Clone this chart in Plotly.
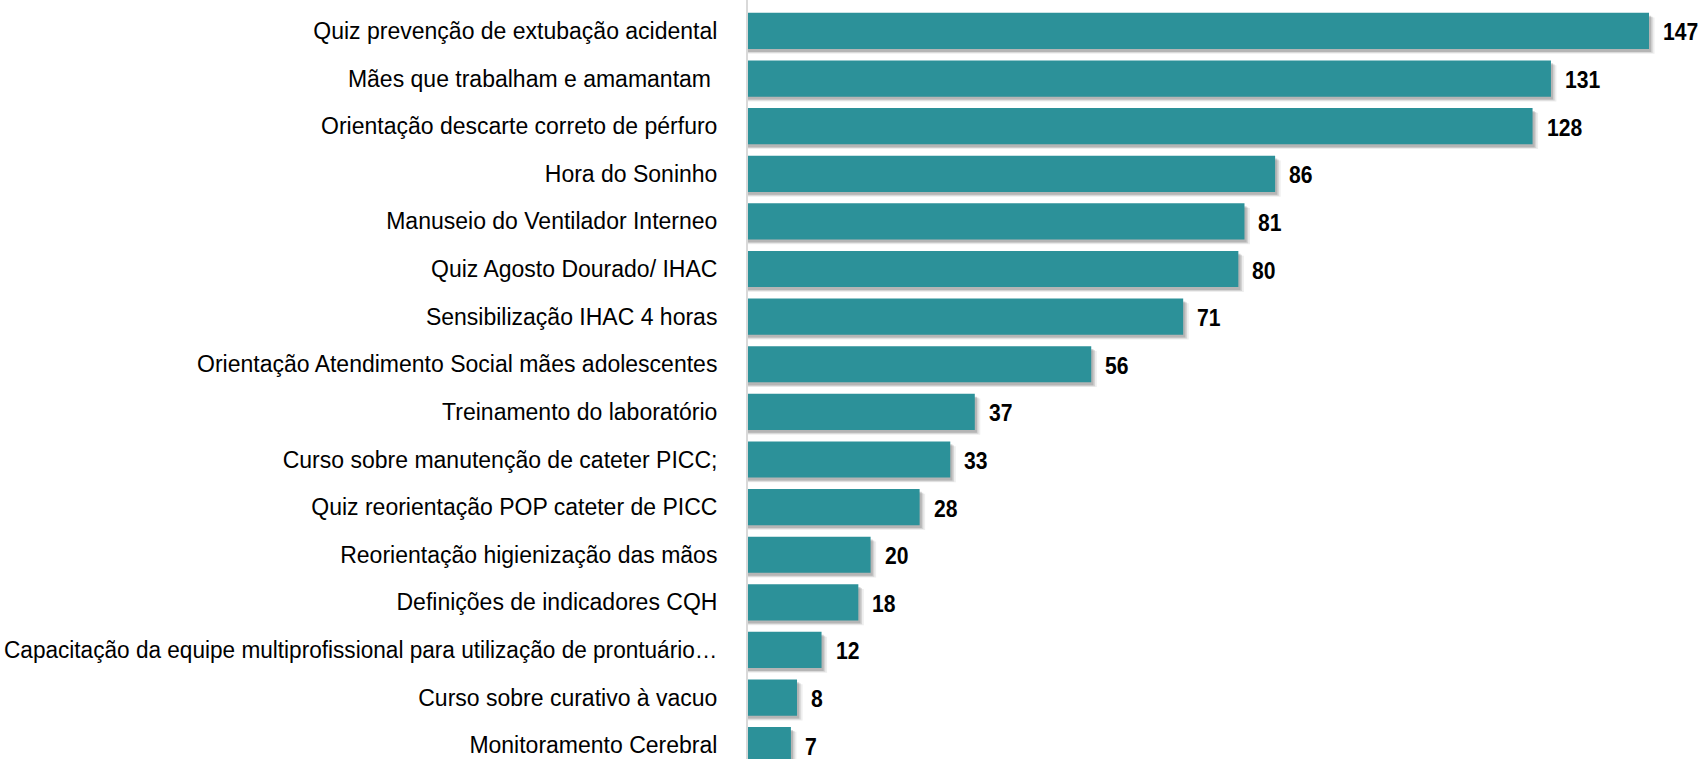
import plotly.graph_objects as go

# Training sessions and number of participants
categories = [
    "Quiz prevenção de extubação acidental",
    "Mães que trabalham e amamantam ",
    "Orientação descarte correto de pérfuro",
    "Hora do Soninho",
    "Manuseio do Ventilador Interneo",
    "Quiz Agosto Dourado/ IHAC",
    "Sensibilização IHAC 4 horas",
    "Orientação Atendimento Social mães adolescentes",
    "Treinamento do laboratório",
    "Curso sobre manutenção de cateter PICC;",
    "Quiz reorientação POP cateter de PICC",
    "Reorientação higienização das mãos",
    "Definições de indicadores CQH",
    "Capacitação da equipe multiprofissional para utilização de prontuário…",
    "Curso sobre curativo à vacuo",
    "Monitoramento Cerebral",
]
participants = [147, 131, 128, 86, 81, 80, 71, 56, 37, 33, 28, 20, 18, 12, 8, 7]

BAR_COLOR = "#2C9199"
FONT = "Liberation Sans, Arial, sans-serif"

fig = go.Figure()

# soft drop shadow behind each bar
for alpha, grow, shift in [(0.10, 0.9, 0.10), (0.18, 0.6, 0.08), (0.25, 0.35, 0.06)]:
    fig.add_trace(go.Bar(
        x=[v + grow for v in participants], y=categories, orientation="h",
        base=0, width=0.76, offset=-0.38 + shift,
        marker=dict(color=f"rgba(90,90,90,{alpha})", line=dict(width=0)),
        hoverinfo="skip", showlegend=False,
    ))

fig.add_trace(go.Bar(
    x=participants, y=categories, orientation="h",
    width=0.76,
    marker=dict(color=BAR_COLOR, line=dict(width=0)),
    showlegend=False,
))

for cat, val in zip(categories, participants):
    fig.add_annotation(
        x=val, y=cat, text=f"<b>{val}</b>", showarrow=False,
        xanchor="left", yanchor="middle", xshift=12, yshift=-1,
        width=36, align="left",
        font=dict(family=FONT, size=24, color="#000000"),
    )

fig.update_layout(
    width=1702, height=759,
    margin=dict(l=748, r=30, t=0, b=0),
    paper_bgcolor="white", plot_bgcolor="white",
    barmode="overlay",
    font=dict(family=FONT, size=23, color="#000000"),
    xaxis=dict(range=[0, 150.75], visible=False, showgrid=False, zeroline=False,
               automargin=False),
    yaxis=dict(
        categoryorder="array", categoryarray=categories,
        range=[15.29, -0.65], automargin=False,
        showgrid=False, zeroline=False,
        showline=True, linecolor="#d9d9d9", linewidth=2,
        ticks="", ticklabelstandoff=24,
        tickfont=dict(family=FONT, size=23, color="#000000"),
    ),
)

# narrow the bold value labels, and squeeze any category label that
# would run past the left edge of the page
fit_labels = """
var gd = document.getElementById('{plot_id}');
gd.querySelectorAll('.annotation-text').forEach(function (t) {
    var w = t.getComputedTextLength();
    t.setAttribute('lengthAdjust', 'spacingAndGlyphs');
    t.setAttribute('textLength', (w * 0.88).toFixed(1));
});
gd.querySelectorAll('.ytick text').forEach(function (t) {
    var r = t.getBoundingClientRect();
    if (r.left < 12) {
        t.setAttribute('lengthAdjust', 'spacingAndGlyphs');
        t.setAttribute('textLength', (r.right - 12).toFixed(1));
    }
});
"""

fig.write_html("out.html", post_script=fit_labels)
